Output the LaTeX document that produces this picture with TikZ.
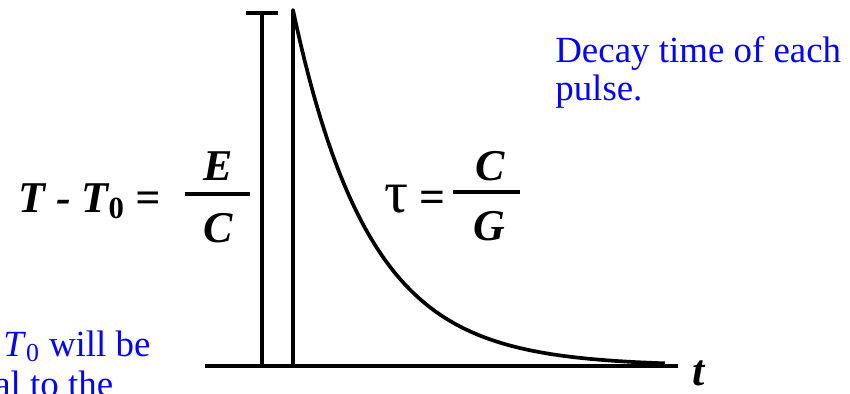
\documentclass[tikz,border=0pt]{standalone}
\usepackage{fontspec}
\setmainfont{Liberation Serif}
\usetikzlibrary{positioning}
\definecolor{noteblue}{RGB}{5,5,245}
\begin{document}
\begin{tikzpicture}[x=0.02cm,y=-0.02cm,
    axisline/.style={line width=2.3pt,black},
    pulseline/.style={line width=2.1pt,black},
    formula/.style={inner sep=0pt,font=\fontsize{25}{28}\selectfont\bfseries\itshape},
    plainformula/.style={inner sep=0pt,font=\fontsize{26}{28}\selectfont},
    note/.style={inner sep=0pt,text=noteblue,font=\fontsize{21}{22}\selectfont}]
    \useasboundingbox (0,0) rectangle (850,393);
    \clip (0,0) rectangle (850,393);
    % time axis
    \coordinate (origin) at (205,366);
    \coordinate (tend) at (678,366);
    \draw[axisline] (origin) -- (tend);
    % heating pulse and decay
    \draw[pulseline] (262,366) -- (262,13);
    \draw[pulseline] (246,13) -- (278,13);
    \draw[pulseline,line join=round] (293,366) -- (293,10)
        -- plot[domain=293:665,samples=120,smooth] (\x,{366-356*exp(-(\x-293)/76)});
    % labels
    \node[formula,anchor=base west] (lhs) at (18,212) {T - T\textsubscript{\upshape 0} =};
    \node[formula,anchor=base] (numE) at (218,180) {E};
    \node[formula,anchor=base] (denC) at (218,242) {C};
    \draw[pulseline] (185,194) -- (250,194);
    \node[plainformula,anchor=base west] (taulbl) at (384,212) {{\fontsize{34}{36}\selectfont τ} \textbf{=}};
    \node[formula,anchor=base] (numC) at (490,180) {C};
    \node[formula,anchor=base] (denG) at (489,240) {G};
    \draw[pulseline] (453,192) -- (520,192);
    \node[formula,anchor=base] (tlbl) at (699,385) {t};
    % notes
    \node[note,anchor=base west] (decayA) at (555,62) {Decay time of each};
    \node[note,anchor=base west] (decayB) at (555,100) {pulse.};
    \node[note,anchor=base west] (riseA) at (3,356) {\textit{T}\textsubscript{0} will be};
    \node[note,anchor=base west] (riseB) at (-6,396) {al to the};
\end{tikzpicture}
\end{document}
